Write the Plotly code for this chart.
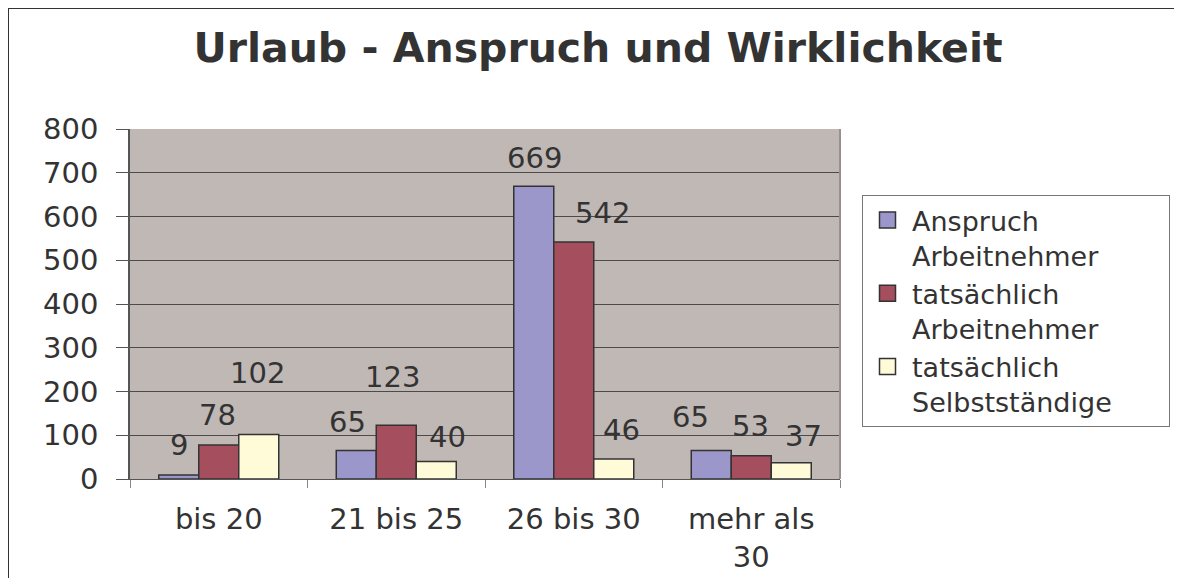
import plotly.graph_objects as go

categories = ["bis 20", "21 bis 25", "26 bis 30", "mehr als<br>30"]
series_names = ["Anspruch<br>Arbeitnehmer", "tatsächlich<br>Arbeitnehmer",
                "tatsächlich<br>Selbstständige" + "\u00a0" * 6]
anspruch_an = [9, 65, 669, 65]
tats_an = [78, 123, 542, 53]
tats_selbst = [102, 40, 46, 37]
series_values = [anspruch_an, tats_an, tats_selbst]
colors = ["#9C97CB", "#A54F5E", "#FFFBD9"]

# label nudges (pixels) to mimic the manual placement in the original
label_dx = [[0, -9, 1, -21], [-1, -4, 29, -1], [-1, 11, 8, 12]]
label_dy = [[18, 17, 16, 22], [18, 36, 17, 18], [49, 13, 17, 15]]

# page body has an 8px margin; the figure sits at (8, 8) and must not overflow
OFF = 8
W, H = 1182 - 2 * OFF, 586 - 2 * OFF
ML, MT = 130 - OFF, 129 - OFF
MR = W - (840 - OFF)
MB = H - (479 - OFF)
BARGAP = 0.324
FONT = "DejaVu Sans"
TXT = "#333333"

fig = go.Figure()
for name, vals, col in zip(series_names, series_values, colors):
    fig.add_trace(go.Bar(
        x=categories, y=vals, name=name, showlegend=False,
        marker=dict(color=col, line=dict(color="#333333", width=1.5)),
        hoverinfo="x+y",
    ))
# legend entries with larger square swatches
for name, col in zip(series_names, colors):
    fig.add_trace(go.Scatter(
        x=[None], y=[None], mode="markers", name=name,
        marker=dict(symbol="square", size=16, color=col,
                    line=dict(color="#333333", width=1.5)),
    ))

plot_w = W - ML - MR
plot_h = H - MT - MB
cat_px = plot_w / len(categories)
bar_px = cat_px * (1 - BARGAP) / len(series_values)

annotations = []
for i, vals in enumerate(series_values):
    for k, v in enumerate(vals):
        annotations.append(dict(
            x=categories[k], y=v, xref="x", yref="y", text=str(v),
            showarrow=False, yanchor="bottom", xanchor="center",
            xshift=(i - 1) * bar_px + label_dx[i][k],
            yshift=label_dy[i][k] - 7,
            font=dict(family=FONT, size=29, color=TXT),
        ))

def px_x(p):  # screen px -> paper
    return (p - OFF - ML) / plot_w
def px_y(p):
    return (H - MB - (p - OFF)) / plot_h

BORDER = dict(color="#333333", width=2)
shapes = [
    # outer chart border: only top and left edges are visible in the original
    dict(type="line", xref="paper", yref="paper",
         x0=px_x(8), x1=px_x(1250), y0=px_y(8), y1=px_y(8), line=BORDER, layer="above"),
    dict(type="line", xref="paper", yref="paper",
         x0=px_x(8), x1=px_x(8), y0=px_y(8), y1=px_y(650), line=BORDER, layer="above"),
    # right border of plot area
    dict(type="line", xref="paper", yref="paper", x0=1, x1=1, y0=0, y1=1,
         line=dict(color="#9A8F8F", width=2)),
]

fig.update_layout(
    width=W, height=H,
    margin=dict(l=ML, r=MR, t=MT, b=MB, autoexpand=False),
    paper_bgcolor="white", plot_bgcolor="#C0B8B5",
    barmode="group", bargap=BARGAP, bargroupgap=0,
    title=dict(text="<b>Urlaub - Anspruch und Wirklichkeit</b>",
               x=(598 - OFF) / W, xanchor="center", y=1 - (48 - OFF) / H, yanchor="middle",
               xref="container", yref="container",
               font=dict(family=FONT, size=41, color=TXT)),
    font=dict(family=FONT, size=28, color=TXT),
    legend=dict(x=px_x(862), y=px_y(195), xanchor="left", yanchor="top",
                bgcolor="white", bordercolor="#777777", borderwidth=1,
                font=dict(family=FONT, size=27, color=TXT),
                valign="top", tracegroupgap=0, itemwidth=39),
    annotations=annotations,
    shapes=shapes,
    showlegend=True,
)
fig.update_xaxes(
    showline=True, linecolor="#555555", linewidth=1, automargin=False,
    ticks="outside", ticklen=8, tickcolor="#888888", tickson="boundaries",
    ticklabelstandoff=14, showgrid=False,
    tickfont=dict(family=FONT, size=29, color=TXT),
)
fig.update_yaxes(
    range=[0, 800], dtick=100, tick0=0, automargin=False,
    showline=True, linecolor="#555555", linewidth=1.5,
    showgrid=True, gridcolor="#4F4A4A", gridwidth=1,
    ticks="outside", ticklen=12, tickcolor="#555555",
    ticklabelstandoff=12, zeroline=False,
    tickfont=dict(family=FONT, size=29, color=TXT),
)

fig.write_html("out.html")
